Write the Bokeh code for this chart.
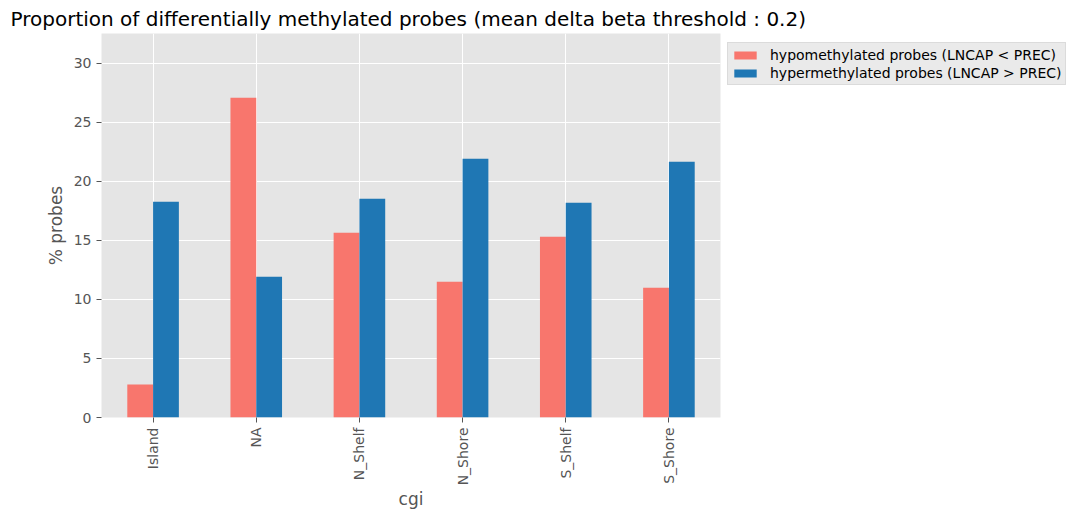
from bokeh.plotting import figure
from bokeh.models import ColumnDataSource, FactorRange, Range1d, FixedTicker, Legend, LegendItem
from bokeh.transform import dodge
from bokeh.embed import file_html
from bokeh.resources import INLINE
import math

# CpG island context categories
categories = ["Island", "NA", "N_Shelf", "N_Shore", "S_Shelf", "S_Shore"]
# % of probes in each context
hypo_pct = [2.8, 27.07, 15.64, 11.49, 15.30, 10.98]
hyper_pct = [18.26, 11.91, 18.52, 21.90, 18.18, 21.65]
y_ticks = [0, 5, 10, 15, 20, 25, 30]

FONT = "DejaVu Sans"
GREY = "#555555"

src = ColumnDataSource(dict(cgi=categories, hypo=hypo_pct, hyper=hyper_pct))

p = figure(
    width=1075, height=518,
    x_range=FactorRange(factors=categories, range_padding=0),
    y_range=Range1d(0, 32.5),
    output_backend="svg", toolbar_location=None,
    min_border_left=101, min_border_right=355,
    min_border_top=33, min_border_bottom=101,
    background_fill_color="#E5E5E5", border_fill_color="white",
)
p.frame_width = 619
p.frame_height = 384
p.outline_line_color = None

p.title.text = "Proportion of differentially methylated probes (mean delta beta threshold : 0.2)"
p.title.text_font = FONT
p.title.text_font_size = "20px"
p.title.text_font_style = "normal"
p.title.text_color = "black"
p.title.align = "left"
p.title.offset = -91
p.title.standoff = 5

r1 = p.vbar(x=dodge("cgi", -0.125, range=p.x_range), top="hypo", width=0.25,
            source=src, fill_color="#F8766D", line_color=None)
r2 = p.vbar(x=dodge("cgi", 0.125, range=p.x_range), top="hyper", width=0.25,
            source=src, fill_color="#1F77B4", line_color=None)

# grid
for g in (p.xgrid, p.ygrid):
    g.grid_line_color = "white"
    g.grid_line_width = 1

# axes
p.yaxis.ticker = FixedTicker(ticks=y_ticks)
for ax in (p.xaxis, p.yaxis):
    ax.axis_line_color = None
    ax.major_tick_line_color = GREY
    ax.major_tick_out = 5
    ax.major_tick_in = 0
    ax.minor_tick_line_color = None
    ax.major_label_text_font = FONT
    ax.major_label_text_font_size = "14px"
    ax.major_label_text_color = GREY
    ax.axis_label_text_font = FONT
    ax.axis_label_text_font_size = "17px"
    ax.axis_label_text_font_style = "normal"
    ax.axis_label_text_color = GREY
p.xaxis.axis_label = "cgi"
p.xaxis.axis_label_standoff = 1
p.yaxis.axis_label = "% probes"
p.xaxis.major_label_orientation = math.pi / 2

# legend in the right-hand panel, next to the top of the plot area
legend = Legend(
    items=[
        LegendItem(label="hypomethylated probes (LNCAP < PREC)", renderers=[r1]),
        LegendItem(label="hypermethylated probes (LNCAP > PREC)", renderers=[r2]),
    ],
    location=(7, 332),
    label_text_font=FONT, label_text_font_size="14px", label_text_color="black",
    glyph_width=28, glyph_height=10, label_standoff=11, spacing=1,
    label_height=17,
    background_fill_color="#EAEAEA", background_fill_alpha=1,
    border_line_color="#CCCCCC", border_line_width=1,
    padding=3, margin=0,
)
p.add_layout(legend, "right")

open("out.html", "w").write(file_html(p, INLINE))
